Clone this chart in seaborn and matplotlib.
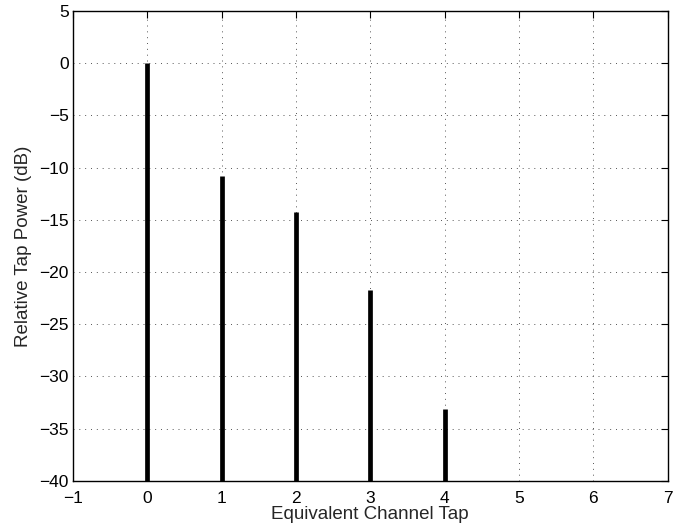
import matplotlib
matplotlib.use("Agg")
import matplotlib.pyplot as plt
import seaborn as sns
import numpy as np

taps = [0, 1, 2, 3, 4]
power_db = [0.0, -10.8, -14.2, -21.7, -33.1]
xticks = [-1, 0, 1, 2, 3, 4, 5, 6, 7]
yticks = [-40, -35, -30, -25, -20, -15, -10, -5, 0, 5]

sns.set_style("white")
plt.rcParams['font.family'] = ['Liberation Sans', 'DejaVu Sans']
plt.rcParams['axes.unicode_minus'] = True

fig = plt.figure(figsize=(6.87, 5.29), dpi=100)
ax = fig.add_axes([0.106, 0.091, 0.866, 0.888])

ax.vlines(taps, -40, power_db, colors='black', linewidth=3.4)

ax.set_xlim(-1, 7)
ax.set_ylim(-40, 5)
ax.set_xticks(xticks)
ax.set_yticks(yticks)
ax.set_xticklabels([f"\u2212{abs(v)}" if v < 0 else str(v) for v in xticks], fontsize=12.5)
ax.set_yticklabels([f"\u2212{abs(v)}" if v < 0 else str(v) for v in yticks], fontsize=12.5)
ax.grid(True, linestyle=(0, (1, 5)), color='#555555', linewidth=0.7)
ax.set_axisbelow(True)
ax.tick_params(direction='in', top=True, right=True, length=5, width=0.8, colors='black')
ax.tick_params(axis='x', pad=7)
ax.tick_params(axis='y', pad=3)
for s in ax.spines.values():
    s.set_color('black')
    s.set_linewidth(1.0)
ax.set_xlabel("Equivalent Channel Tap", fontsize=13.5, labelpad=0)
ax.set_ylabel("Relative Tap Power (dB)", fontsize=13.5, labelpad=5)

fig.savefig("out.png", dpi=100)
